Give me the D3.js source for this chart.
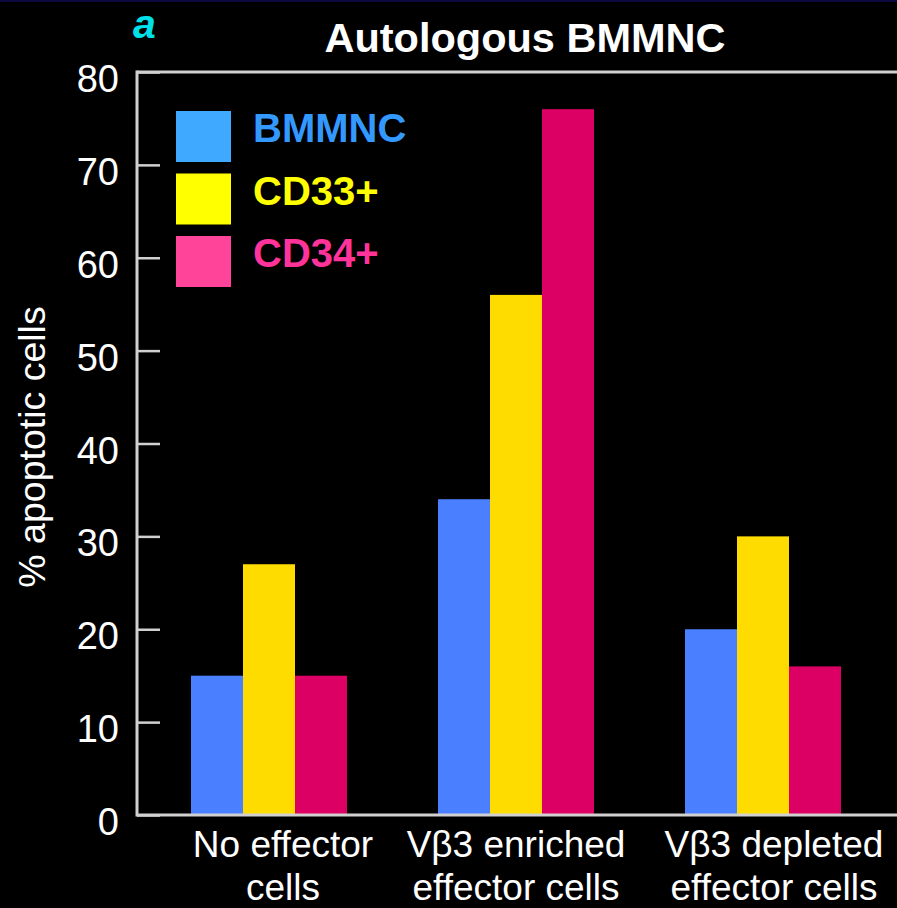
<!DOCTYPE html>
<html>
<head>
<meta charset="utf-8">
<script src="https://cdn.jsdelivr.net/npm/d3@7"></script>
<style>
  body { margin: 0; background: #000; }
  svg { display: block; font-family: "Liberation Sans", Arial, sans-serif; }
</style>
</head>
<body>
<div id="chart"></div>
<script>
// data
const groups = ["No effector|cells", "V\u03b23 enriched|effector cells", "V\u03b23 depleted|effector cells"];
const series = ["BMMNC", "CD33+", "CD34+"];
const bmmnc = [15, 34, 20];
const cd33 = [27, 56, 30];
const cd34 = [15, 76, 16];
const yTicks = [0, 10, 20, 30, 40, 50, 60, 70, 80];

const barColors = ["#4a80ff", "#ffdc00", "#dc0064"];
const swatchColors = ["#3fa9ff", "#ffff00", "#ff4499"];
const legendText = ["#3399ff", "#ffff00", "#ff3399"];

const values = [bmmnc, cd33, cd34];

var width = 897, height = 908;
var plotLeft = 137, plotTop = 72, plotBottom = 815;
// category labels are not quite centred under their bars in the original
var labelShift = [14, 0, 11];

var svg = d3.select("#chart").append("svg")
  .attr("width", width)
  .attr("height", height);

svg.append("rect").attr("width", width).attr("height", height).attr("fill", "#000");
svg.append("rect").attr("width", width).attr("height", 2).attr("fill", "#0a0a40");

var y = d3.scaleLinear().domain([0, 80]).range([plotBottom, plotTop]);

var x = d3.scalePoint()
  .domain(groups)
  .range([145.5, 886.5])
  .padding(0.5);

var xInner = d3.scaleBand()
  .domain(series)
  .range([-78, 78]);

// bars
series.forEach(function (s, si) {
  svg.append("g").selectAll("rect")
    .data(groups.map(function (g, gi) { return { g: g, v: values[si][gi] }; }))
    .enter().append("rect")
    .attr("x", function (d) { return x(d.g) + xInner(s); })
    .attr("width", xInner.bandwidth())
    .attr("y", function (d) { return y(d.v); })
    .attr("height", function (d) { return y(0) - y(d.v); })
    .attr("fill", barColors[si]);
});

// frame lines
var axisColor = "#d0d0d0";
svg.append("line").attr("x1", plotLeft).attr("x2", width).attr("y1", plotTop).attr("y2", plotTop)
  .attr("stroke", axisColor).attr("stroke-width", 3);
svg.append("line").attr("x1", plotLeft).attr("x2", width).attr("y1", plotBottom).attr("y2", plotBottom)
  .attr("stroke", axisColor).attr("stroke-width", 3);

// y axis with inward ticks
var yAxis = svg.append("g")
  .attr("transform", "translate(" + plotLeft + ",0)")
  .call(d3.axisRight(y).tickValues(yTicks).tickSize(23).tickFormat(""));
yAxis.select(".domain").attr("stroke", axisColor).attr("stroke-width", 3)
  .attr("d", "M0," + (plotTop - 1.5) + "V" + (plotBottom + 1.5));
yAxis.selectAll(".tick line").attr("stroke", axisColor).attr("stroke-width", 2.5);

svg.append("g").selectAll("text")
  .data(yTicks)
  .enter().append("text")
  .attr("x", 119)
  .attr("y", function (d) { return y(d) + 20; })
  .attr("text-anchor", "end")
  .attr("fill", "#fff")
  .attr("font-size", 38)
  .text(function (d) { return d; });

// x labels
groups.forEach(function (g, gi) {
  var lines = g.split("|");
  var t = svg.append("text")
    .attr("text-anchor", "middle")
    .attr("fill", "#fff")
    .attr("font-size", 37);
  lines.forEach(function (l, i) {
    t.append("tspan").attr("x", x(g) + labelShift[gi]).attr("y", 857 + i * 43).text(l);
  });
});

// y label
svg.append("text")
  .attr("transform", "translate(45,447)rotate(-90)")
  .attr("text-anchor", "middle")
  .attr("fill", "#fff")
  .attr("font-size", 37.5)
  .text("% apoptotic cells");

// title
svg.append("text")
  .attr("x", 525).attr("y", 52)
  .attr("text-anchor", "middle")
  .attr("fill", "#fff")
  .attr("font-weight", "bold")
  .attr("font-size", 41.5)
  .text("Autologous BMMNC");

svg.append("text")
  .attr("x", 133).attr("y", 38)
  .attr("fill", "#00e0e8")
  .attr("font-weight", "bold")
  .attr("font-style", "italic")
  .attr("font-size", 41)
  .text("a");

// legend
var legend = svg.append("g").selectAll("g")
  .data(series)
  .enter().append("g")
  .attr("transform", function (d, i) { return "translate(176," + (111 + i * 62.5) + ")"; });

legend.append("rect")
  .attr("width", 55).attr("height", 51)
  .attr("fill", function (d, i) { return swatchColors[i]; });

legend.append("text")
  .attr("x", 77).attr("y", 31)
  .attr("fill", function (d, i) { return legendText[i]; })
  .attr("font-weight", "bold")
  .attr("font-size", 40)
  .text(function (d) { return d; });
</script>
</body>
</html>
